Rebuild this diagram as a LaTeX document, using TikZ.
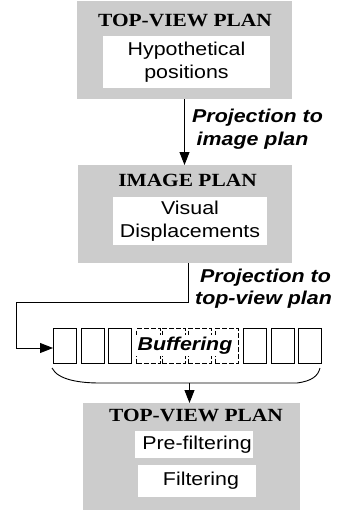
\documentclass[tikz,border=0pt]{standalone}
\usepackage{fontspec}
\setmainfont{Liberation Sans}
\newfontfamily\titlefont[FakeStretch=1.15]{Liberation Serif}
\newfontfamily\labelfont[FakeStretch=1.15]{Liberation Sans}
\usetikzlibrary{arrows.meta}
\definecolor{boxgray}{RGB}{204,204,204}

\begin{document}
\begin{tikzpicture}[x=1pt,y=-1pt,
  graybox/.style={fill=boxgray, draw=none, inner sep=0pt, outer sep=0pt},
  whitebox/.style={fill=white, inner sep=0pt, outer sep=0pt, align=center, font=\labelfont\fontsize{18.6}{22.8}\selectfont},
  titletext/.style={anchor=base, inner sep=0pt, font=\titlefont\bfseries\fontsize{18.6}{22}\selectfont},
  lbl/.style={anchor=base west, inner sep=0pt, font=\labelfont\bfseries\itshape\fontsize{18.6}{22}\selectfont},
  cell/.style={draw, line width=0.9pt, minimum height=35pt, minimum width=23.5pt, inner sep=0pt, outer sep=0pt},
  dcell/.style={cell, dash pattern=on 5pt off 2pt},
  conn/.style={draw, line width=0.9pt},
  arr/.style={conn, -{Triangle[length=13pt,width=10pt]}},
]
\fill[white] (0,0) rectangle (338,512);
\useasboundingbox (0,0) rectangle (338,512);

% gray panels
\node[graybox, minimum width=215pt, minimum height=98pt] (g1) at (184.5,50) {};
\node[graybox, minimum width=214pt, minimum height=98pt] (g2) at (185,214) {};
\node[graybox, minimum width=217pt, minimum height=107pt] (g3) at (191.5,456.5) {};

% titles
\node[titletext] (t1) at (185,26.5) {TOP-VIEW PLAN};
\node[titletext] (t2) at (187.5,186.5) {IMAGE PLAN};
\node[titletext] (t3) at (196,421.5) {TOP-VIEW PLAN};

% white inner boxes
\node[whitebox, minimum width=167pt, minimum height=52pt] (w1) at (186.5,62) {Hypothetical\\positions};
\node[whitebox, minimum width=154pt, minimum height=48pt] (w2) at (190,221) {Visual\\Displacements};
\node[whitebox, minimum width=118pt, minimum height=27pt] (w3) at (194,444.5) {\hspace*{6pt}Pre-filtering};
\node[whitebox, minimum width=118pt, minimum height=32pt] (w4) at (197,481) {\hspace*{8pt}Filtering};

% buffer cells
\node[cell]  (c1)  at (64.75,346) {};
\node[cell]  (c2)  at (92.75,346) {};
\node[cell]  (c3)  at (119.75,346) {};
\node[dcell] (c4)  at (148.25,346) {};
\node[dcell] (c5)  at (173.75,346) {};
\node[dcell] (c6)  at (199.75,346) {};
\node[dcell] (c7)  at (226.75,346) {};
\node[cell]  (c8)  at (254.75,346) {};
\node[cell]  (c9)  at (282.75,346) {};
\node[cell]  (c10) at (309.75,346) {};
\node[anchor=base, fill=white, inner xsep=1.5pt, inner ysep=2pt,
      font=\labelfont\bfseries\itshape\fontsize{18.6}{22}\selectfont] (buf) at (185,350) {Buffering};

% labels
\node[lbl] (l1a) at (192,122) {Projection to};
\node[lbl] (l1b) at (196.5,145) {image plan};
\node[lbl] (l2a) at (200,282.5) {Projection to};
\node[lbl] (l2b) at (195,304) {top-view plan};

% connectors
\draw[arr] (g1.south) -- (g1.south |- g2.north);

\coordinate (s2) at (188,263);
\coordinate (k2) at (16,302);
\draw[arr] (s2) |- (k2) |- ([yshift=-2pt]c1.west);

\coordinate (b1) at (52,368);
\coordinate (b2) at (100,383);
\coordinate (b3) at (297,383);
\coordinate (b4) at (320,368);
\draw[conn] (b1) .. controls (58,380) and (80,383) .. (b2) -- (b3) .. controls (312,381) and (318,376) .. (b4);

\coordinate (bm) at (189.5,383);
\draw[arr] (bm) -- (bm |- g3.north);
\end{tikzpicture}
\end{document}
